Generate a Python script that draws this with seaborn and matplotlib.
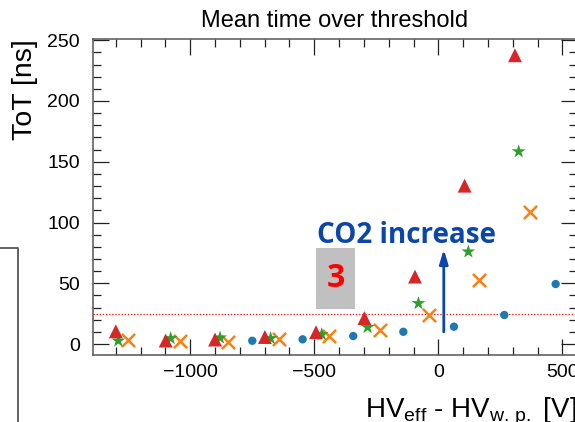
import numpy as np
import pandas as pd
import matplotlib
matplotlib.use("Agg")
import matplotlib.pyplot as plt
from matplotlib.patches import Rectangle
from matplotlib.lines import Line2D
import seaborn as sns

# HV_eff - HV_w.p. [V] and mean ToT [ns] for four gas mixtures
x_circle = [-750, -547, -343, -141, 63, 266, 473]
y_circle = [2.7, 3.9, 6.6, 10.1, 14.3, 23.9, 49.4]

x_cross = [-1250, -1041, -847, -641, -439, -235, -36, 165, 370]
y_cross = [3.3, 2.7, 1.9, 3.9, 6.6, 11.5, 23.9, 53.0, 109.0]

x_star = [-1290, -1079, -880, -676, -470, -285, -80, 121, 324]
y_star = [2.7, 4.7, 5.2, 4.7, 8.0, 13.8, 33.5, 76.0, 158.4]

x_tri = [-1300, -1099, -900, -699, -493, -298, -94, 106, 309]
y_tri = [10.5, 2.9, 3.7, 5.8, 9.7, 21.4, 55.5, 130.3, 237.6]

threshold = 25
x_ticks = [-1000, -500, 0, 500]
y_ticks = [0, 50, 100, 150, 200, 250]

sns.set_style("ticks")
plt.rcParams["font.family"] = ["Liberation Sans", "DejaVu Sans"]
plt.rcParams["mathtext.fontset"] = "custom"
plt.rcParams["mathtext.rm"] = "Liberation Sans"
plt.rcParams["mathtext.it"] = "Liberation Sans:italic"
for key in ["text.color", "axes.labelcolor", "xtick.color", "ytick.color"]:
    plt.rcParams[key] = "black"

fig = plt.figure(figsize=(5.75, 4.22), dpi=100)
ax = fig.add_axes([93 / 575, 67 / 422, 483.5 / 575, 316 / 422])

series = [
    (x_circle, y_circle, "o", 36, "#1f77b4"),
    (x_cross, y_cross, "x", 90, "#ff7f0e"),
    (x_star, y_star, "*", 110, "#2ca02c"),
    (x_tri, y_tri, "^", 100, "#d62728"),
]
for i, (xs, ys, mk, size, col) in enumerate(series):
    df = pd.DataFrame({"dv": xs, "tot": ys})
    if mk == "x":
        sns.scatterplot(data=df, x="dv", y="tot", marker=mk, s=size, color=col,
                        linewidth=1.8, ax=ax, zorder=3 + i)
    else:
        sns.scatterplot(data=df, x="dv", y="tot", marker=mk, s=size, color=col,
                        edgecolor="none", linewidth=0, ax=ax, zorder=3 + i)

ax.axhline(threshold, color="red", linestyle=(0, (1, 1.5)), linewidth=0.9, zorder=2)

ax.set_xlim(-1392, 557)
ax.set_ylim(-9, 251)
ax.set_xticks(x_ticks)
ax.set_yticks(y_ticks)
ax.xaxis.set_minor_locator(matplotlib.ticker.MultipleLocator(100))
ax.yaxis.set_minor_locator(matplotlib.ticker.MultipleLocator(10))
ax.tick_params(which="both", direction="in", top=True, right=True, color="#222222", width=0.9)
ax.tick_params(which="major", length=11.5)
ax.tick_params(which="minor", length=5.8)
ax.tick_params(axis="x", which="major", labelsize=14, pad=6.5)
ax.tick_params(axis="y", which="major", labelsize=14, pad=9.4)
for sp in ax.spines.values():
    sp.set_color("#555555")
    sp.set_linewidth(1.1)

ax.set_title("Mean time over threshold", fontsize=17, pad=8.5)
ax.set_ylabel("ToT [ns]", fontsize=20.5, loc="top")
ax.yaxis.set_label_coords(-0.113, 1.0)
ax.set_xlabel(r"HV$_{\mathrm{eff}}$ - HV$_{\mathrm{w.\,p.}}$ [V]", fontsize=20, loc="right")
ax.xaxis.set_label_coords(1.0, -0.128)
ax.xaxis.label.set_verticalalignment("top")

# overlay annotation
ax.add_patch(Rectangle((-493, 28.8), 157, 50.5, facecolor="#c0c0c0", edgecolor="none", zorder=2))
ax.text(-414, 54, "3", color="#ff0000", fontsize=23, fontweight="bold",
        family="Open Sans", ha="center", va="center", zorder=3)
ax.text(-489, 83.2, "CO2 increase", color="#0b47a8", fontsize=20, fontweight="bold",
        family="Open Sans", ha="left", va="baseline", zorder=8)
ax.annotate("", xy=(22, 78), xytext=(22, 10),
            arrowprops=dict(arrowstyle="-|>,head_length=0.6,head_width=0.18",
                            color="#0b47a8", lw=2, mutation_scale=14,
                            shrinkA=0, shrinkB=0), zorder=8)

# frame edge at lower left
fig.add_artist(Line2D([0, 18.3 / 575, 18.3 / 575], [1 - 248 / 422, 1 - 248 / 422, 0],
                      color="#555555", linewidth=1.3, transform=fig.transFigure))

fig.savefig("out.png", dpi=100)
